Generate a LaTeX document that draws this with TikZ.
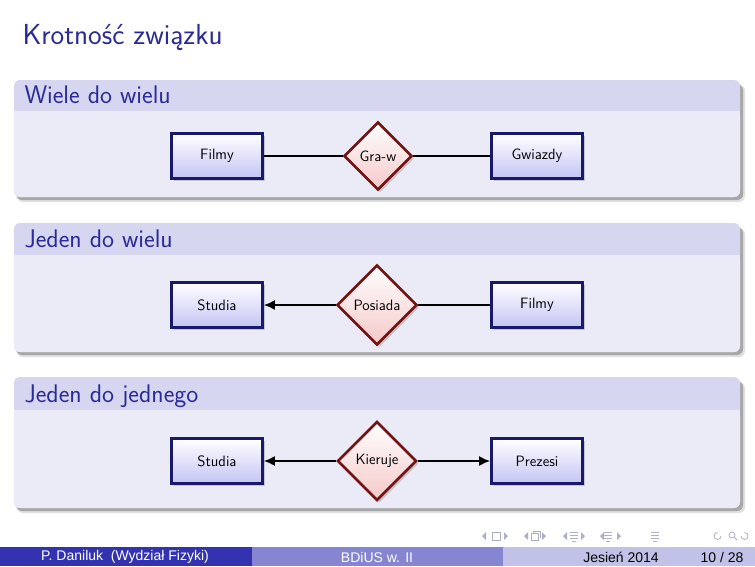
\documentclass[tikz,border=0pt]{standalone}
\usepackage{fontspec}
\newfontfamily\footfont{Liberation Sans}
\usetikzlibrary{shapes.geometric,arrows.meta,shadows}

\definecolor{struct}{rgb}{0.2,0.2,0.7}
\colorlet{headtext}{struct!85!black}
\colorlet{blocktitle}{struct!20!white}
\colorlet{blockbody}{struct!10!white}
\definecolor{entityline}{RGB}{25,25,105}
\definecolor{entityfill}{RGB}{196,196,245}
\definecolor{relline}{RGB}{115,20,20}
\definecolor{relfill}{RGB}{245,200,200}
\definecolor{navgray}{RGB}{175,175,200}

\tikzset{
  entity/.style={rectangle, draw=entityline, line width=2.8pt,
    minimum width=91pt, minimum height=45pt, top color=white, bottom color=entityfill,
    drop shadow={shadow xshift=2.5pt, shadow yshift=-2.5pt, opacity=.35},
    font=\sffamily\fontsize{15}{17}\selectfont},
  relation/.style={diamond, aspect=1, draw=relline, line width=2.6pt, inner sep=0pt,
    top color=white, bottom color=relfill,
    drop shadow={shadow xshift=2.5pt, shadow yshift=-2.5pt, opacity=.35},
    font=\sffamily\fontsize{15}{17}\selectfont},
  link/.style={line width=1.6pt},
  card/.style={link, -{Latex[length=11pt,width=10pt]}},
  blockhead/.style={anchor=base west, text=headtext, font=\sffamily\fontsize{25.5}{27}\selectfont},
  footer/.style={font=\footfont\fontsize{14}{16}\selectfont},
  nav/.style={navgray, line width=0.8pt}
}

\begin{document}
\begin{tikzpicture}[x=1pt,y=-1pt]

\useasboundingbox (0,0) rectangle (755,566);
\fill[white] (0,0) rectangle (755,566);

% Frame title
\node[anchor=base west, text=headtext, font=\sffamily\fontsize{29}{31}\selectfont] (frametitle) at (19,44) {Krotność związku};

% Blocks: shadow, title bar, body
\foreach \top/\mid/\bot/\name in {80/111/197/Wiele do wielu, 223/255/352/Jeden do wielu, 377/410/508/Jeden do jednego}
{
  \fill[black, opacity=.12, rounded corners=6pt] (17,\top+5) rectangle (745,\bot+5);
  \fill[black, opacity=.25, rounded corners=6pt] (16,\top+4) rectangle (743,\bot+3);
  \fill[blocktitle, rounded corners=6pt] (14,\top) rectangle (740,\bot);
  \fill[blockbody, rounded corners=6pt] (14,\mid) rectangle (740,\bot);
  \fill[blockbody] (14,\mid) rectangle (740,\mid+8);
  \node[blockhead] at (21,\mid-8) {\name};
}

% Wiele do wielu
\node[entity] (filmyA) at (217,156) {Filmy};
\node[relation, minimum width=68pt, minimum height=68pt] (grawA) at (378,156) {Gra-w};
\node[entity] (gwiazdyA) at (537,156) {Gwiazdy};
\draw[link] (filmyA) -- (grawA);
\draw[link] (grawA) -- (gwiazdyA);

% Jeden do wielu
\node[entity] (studiaB) at (217,305) {Studia};
\node[relation, minimum width=80pt, minimum height=80pt] (posiadaB) at (377,305) {Posiada};
\node[entity] (filmyB) at (537,305) {Filmy};
\draw[card] (posiadaB) -- (studiaB);
\draw[link] (posiadaB) -- (filmyB);

% Jeden do jednego
\node[entity] (studiaC) at (217,461) {Studia};
\node[relation, minimum width=79pt, minimum height=79pt] (kierujeC) at (377,461) {Kieruje};
\node[entity] (prezesiC) at (537,461) {Prezesi};
\draw[card] (kierujeC) -- (studiaC);
\draw[card] (kierujeC) -- (prezesiC);

% Navigation symbols
\foreach \x in {482,524,563,600} \fill[nav] (\x,536) -- (\x+4,532) -- (\x+4,540) -- cycle;
\foreach \x in {508,546,585,621} \fill[nav] (\x,536) -- (\x-4,532) -- (\x-4,540) -- cycle;
\draw[nav] (492,532) rectangle (500,540);
\draw[nav] (531,533) rectangle (538,540) (533,533) |- (540,531) -- (540,538);
\foreach \x in {574,608,655} \draw[nav] (\x-4,532) -- (\x+4,532) (\x-4,535) -- (\x+4,535) (\x-4,538) -- (\x+4,538) (\x-2,541) -- (\x+2,541);
\draw[nav] (721,536) arc (0:270:3.5);
\draw[nav] (732,535) circle (3) (734,537) -- (737,540);
\draw[nav] (741,536) arc (180:-90:3.5);

% Footline
\fill[struct] (0,547) rectangle (251.7,566);
\fill[struct!60!white] (251.7,547) rectangle (503.3,566);
\fill[struct!30!white] (503.3,547) rectangle (755,566);
\node[footer, text=white] (author) at (125,557) {P. Daniluk\ \ (Wydział Fizyki)};
\node[footer, text=white] (short) at (377,557) {BDiUS w. II};
\node[footer, text=black] (date) at (621,557) {Jesień 2014};
\node[footer, text=black] (page) at (722,557) {10 / 28};

\end{tikzpicture}
\end{document}
